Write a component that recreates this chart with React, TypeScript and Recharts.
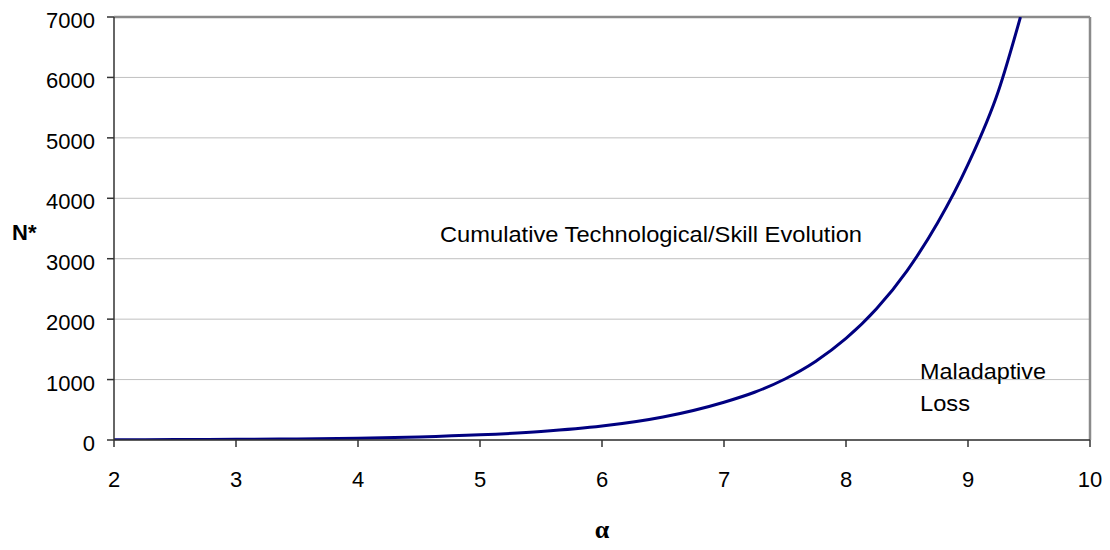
import React from "react";
import { LineChart, Line, XAxis, YAxis, CartesianGrid, ReferenceLine } from "recharts";

const alphaValues = [2.0, 2.5, 3.0, 3.5, 4.0, 4.5, 5.0, 5.5, 6.0, 6.5, 7.0, 7.25, 7.5, 7.75, 8.0, 8.25, 8.5, 8.75, 9.0, 9.25, 9.43];
const nStarValues = [4, 7, 11, 18, 30, 50, 85, 140, 230, 380, 625, 790, 1010, 1300, 1680, 2170, 2800, 3590, 4560, 5780, 7000];
const xTicks = [2, 3, 4, 5, 6, 7, 8, 9, 10];
const yTicks = [0, 1000, 2000, 3000, 4000, 5000, 6000, 7000];

const data = alphaValues.map((a, i) => ({ alpha: a, n: nStarValues[i] }));

const FONT = "'Liberation Sans', Arial, sans-serif";
const AXIS_COLOR = "#333333";
const BORDER_COLOR = "#8a8a8a";

const YTick = (props: any) => {
  const { x, y, payload } = props;
  return (
    <text x={x} y={y} dy={11} textAnchor="end" fontFamily={FONT} fontSize={22} fill="#000">
      {payload.value}
    </text>
  );
};

const XTick = (props: any) => {
  const { x, y, payload } = props;
  return (
    <text x={x} y={y} dy={16} textAnchor="middle" fontFamily={FONT} fontSize={22} fill="#000">
      {payload.value}
    </text>
  );
};

export default function App() {
  const W = 1102;
  const H = 542;
  return (
    <div style={{ position: "relative", width: W, height: H }}>
      <LineChart
        width={W}
        height={H}
        data={data}
        margin={{ top: 9, right: 20, bottom: 70, left: 46 }}
      >
        <CartesianGrid vertical={false} stroke="#c0c0c0" strokeWidth={1} />
        <XAxis
          type="number"
          dataKey="alpha"
          domain={[2, 10]}
          ticks={xTicks}
          interval={0}
          height={40}
          tickSize={7}
          tickMargin={24}
          tick={<XTick />}
          stroke={AXIS_COLOR}
          strokeWidth={1.5}
        />
        <YAxis
          type="number"
          domain={[0, 7000]}
          ticks={yTicks}
          interval={0}
          width={60}
          tickSize={7}
          tickMargin={12}
          tick={<YTick />}
          stroke={AXIS_COLOR}
          strokeWidth={1.5}
          allowDataOverflow
        />
        <ReferenceLine y={7000} stroke={BORDER_COLOR} strokeWidth={2.5} />
        <ReferenceLine x={10} stroke={BORDER_COLOR} strokeWidth={2.5} />
        <Line
          type="monotone"
          dataKey="n"
          stroke="#000080"
          strokeWidth={3}
          dot={false}
          activeDot={false}
          isAnimationActive={false}
        />
      </LineChart>
      <svg
        width={W}
        height={H}
        style={{ position: "absolute", left: 0, top: 0, pointerEvents: "none" }}
      >
        <text x={432} y={234} fontFamily={FONT} fontSize={22} fill="#000" textLength={422} lengthAdjust="spacingAndGlyphs">
          Cumulative Technological/Skill Evolution
        </text>
        <text x={912} y={371} fontFamily={FONT} fontSize={22} fill="#000" textLength={126} lengthAdjust="spacingAndGlyphs">
          Maladaptive
        </text>
        <text x={912} y={403} fontFamily={FONT} fontSize={22} fill="#000" textLength={50} lengthAdjust="spacingAndGlyphs">
          Loss
        </text>
        <text x={4} y={232} fontFamily={FONT} fontSize={22} fontWeight="bold" fill="#000">
          N*
        </text>
        <text x={594} y={530} textAnchor="middle" fontFamily="'Liberation Serif', 'Times New Roman', serif" fontSize={26} fontWeight="bold" fill="#000">
          α
        </text>
      </svg>
    </div>
  );
}
